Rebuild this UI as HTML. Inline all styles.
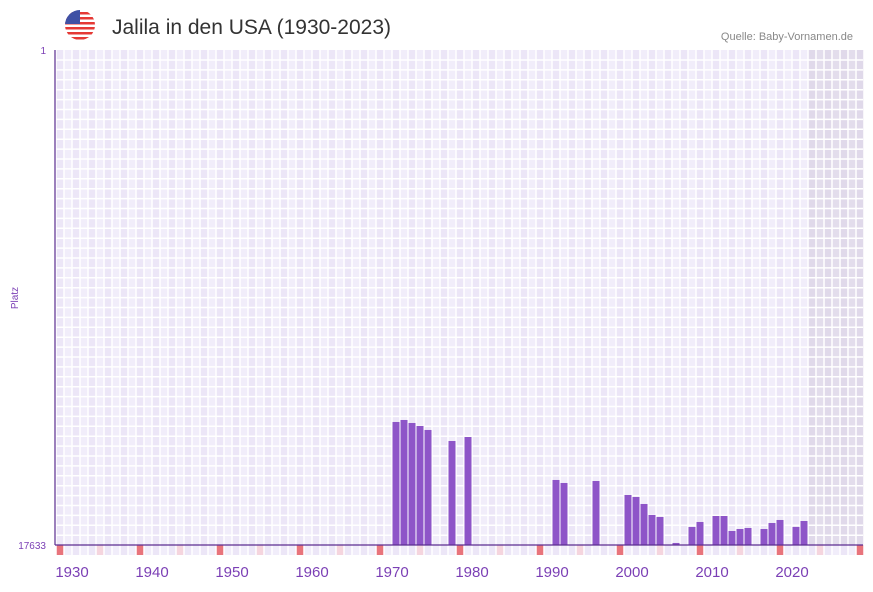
<!DOCTYPE html>
<html><head><meta charset="utf-8"><style>
body{margin:0;background:#fff;font-family:"Liberation Sans",sans-serif}
</style></head><body>
<svg width="873" height="587" xmlns="http://www.w3.org/2000/svg">
<g id="flag">
<clipPath id="fc"><circle cx="80" cy="25" r="15"/></clipPath>
<g clip-path="url(#fc)">
<rect x="65" y="10" width="30" height="30" fill="#fff"/>
<rect x="65" y="12" width="30" height="2.5" fill="#e53935"/><rect x="65" y="17" width="30" height="2.5" fill="#e53935"/>
<rect x="65" y="22" width="30" height="2.5" fill="#e53935"/><rect x="65" y="27" width="30" height="2.5" fill="#e53935"/>
<rect x="65" y="32" width="30" height="2.5" fill="#e53935"/><rect x="65" y="37" width="30" height="2.5" fill="#e53935"/>
<rect x="65" y="10" width="15" height="14" fill="#3f51a5"/></g></g>
<text x="112" y="34" font-size="21" fill="#333">Jalila in den USA (1930-2023)</text>
<text x="853" y="40" font-size="11" fill="#888" text-anchor="end">Quelle: Baby-Vornamen.de</text>
<g id="plot"></g>
<text x="18" y="298" font-size="10" fill="#7b3fb5" transform="rotate(-90 18 298)" text-anchor="middle">Platz</text>
</svg>
<script>
const years=[1970,1971,1972,1973,1974,1977,1979,1990,1991,1995,1999,2000,2001,2002,2003,2005,2007,2008,2010,2011,2012,2013,2014,2016,2017,2018,2020,2021];
const ranks=[13251,13180,13287,13394,13536,13928,13786,15317,15424,15353,15852,15923,16172,16564,16635,17561,16991,16813,16600,16600,17134,17063,17027,17063,16849,16742,16991,16778];
const yTicks=[1,17633];
const xTicks=[1930,1940,1950,1960,1970,1980,1990,2000,2010,2020];
const NS="http://www.w3.org/2000/svg";
const g=document.getElementById('plot');
const x0=56,y0=50,y1=545,startYear=1928,endYear=2029;
const xs=y=>x0+(y-startYear)*8;
const ys=r=>y0+(r-1)/(17633-1)*(y1-y0);
function mk(t,a,p){const e=document.createElementNS(NS,t);for(const k in a)e.setAttribute(k,a[k]);(p||g).appendChild(e);return e;}
// background columns
for(let y=startYear;y<endYear;y++){
 let c=mk('rect',{x:xs(y),y:y0,width:8,height:y1-y0,fill:y>=2022?((y%2)?'#e3ddec':'#e0d9ea'):((y%2)?'#f1edfa':'#ece6f7')});
 
 
 let m=mk('rect',{x:xs(y),y:y1,width:8,height:10,fill:(y%10==8)?'#e8747c':(y%10==3)?'#f5d5de':((y%2)?'#f1edfa':'#ece6f7')});
 
 
}
for(let y=startYear;y<=endYear;y++){mk('line',{x1:xs(y),x2:xs(y),y1:y0,y2:y1+10,stroke:'#fff','stroke-width':1.5});}
for(let yy=y0+10;yy<y1;yy+=9.9){mk('line',{x1:x0,x2:863,y1:yy,y2:yy,stroke:'#fff','stroke-width':1.5});}
years.forEach((yr,i)=>{
 const top=ys(ranks[i]);
 const b=mk('rect',{x:xs(yr)+0.5,y:top,width:7,height:y1-top,fill:'#8e55c8'});
 
 
});
mk('line',{x1:55,x2:863,y1:y1,y2:y1,stroke:'#5b2d90','stroke-width':1.2});
mk('line',{x1:55,x2:55,y1:y0,y2:y1,stroke:'#5b2d90','stroke-width':1.2});
yTicks.forEach(t=>{
 const l=mk('text',{x:46,y:ys(t)+4,'font-size':10,fill:'#7b3fb5','text-anchor':'end'});l.textContent=t;
 
 
});
xTicks.forEach(t=>{
 const l=mk('text',{x:xs(t),y:577,'font-size':15,fill:'#7b3fb5','text-anchor':'middle'});l.textContent=t;
 
 
});
</script>
</body></html>
